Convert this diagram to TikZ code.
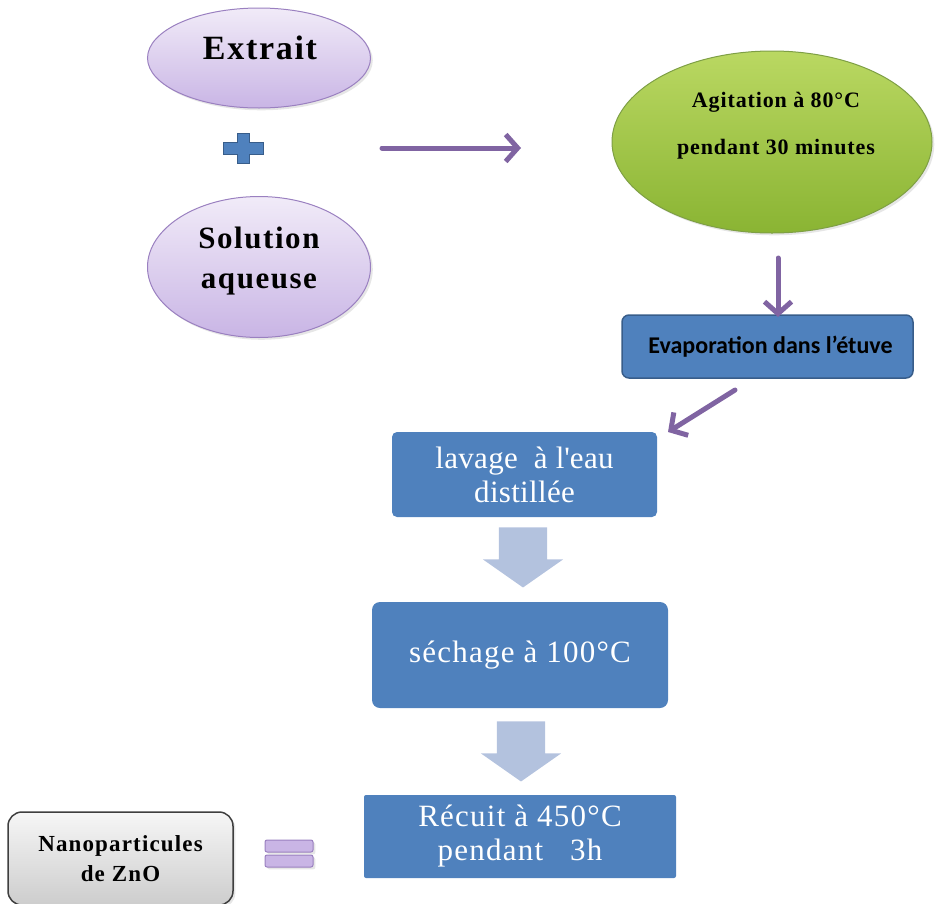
\documentclass[tikz,border=0pt]{standalone}
\usepackage{fontspec}
\setmainfont{Liberation Serif}
\newfontfamily\calibfont{Carlito}
\usetikzlibrary{shapes.geometric,shapes.arrows,arrows.meta,shadows}

\definecolor{lavtop}{HTML}{F1EBF8}
\definecolor{lavbot}{HTML}{C9B5E5}
\definecolor{lavline}{HTML}{9A80C0}
\definecolor{greentop}{HTML}{BAD862}
\definecolor{greenbot}{HTML}{8AB433}
\definecolor{greenline}{HTML}{7E9F45}
\definecolor{boxblue}{HTML}{4F81BD}
\definecolor{blueline}{HTML}{385D8A}
\definecolor{arrblue}{HTML}{B3C2DE}
\definecolor{purplearr}{HTML}{8064A2}
\definecolor{graytop}{HTML}{F6F6F6}
\definecolor{graybot}{HTML}{CDCDCD}
\definecolor{grayline}{HTML}{3F3F3F}

\begin{document}
\begin{tikzpicture}[
  x=1pt, y=-1pt,
  lavell/.style={ellipse, draw=lavline, line width=1pt, top color=lavtop, bottom color=lavbot, minimum width=223pt, drop shadow={opacity=0.2}},
  greenell/.style={ellipse, draw=greenline, line width=1pt, top color=greentop, bottom color=greenbot, minimum width=320pt, minimum height=182pt, drop shadow={opacity=0.2}},
  bluebox/.style={rectangle, fill=boxblue, text=white, align=center},
  boxfont/.style={font=\fontsize{31}{34}\selectfont\addfontfeature{LetterSpace=#1}},
  evapbox/.style={rectangle, rounded corners=7pt, draw=blueline, line width=1.5pt, fill=boxblue, minimum width=291pt, minimum height=63pt, font=\calibfont\bfseries\fontsize{24}{26}\selectfont},
  graybox/.style={rectangle, rounded corners=14pt, draw=grayline, line width=1.5pt, top color=graytop, bottom color=graybot, minimum width=225pt, minimum height=93pt, align=center, font=\bfseries\fontsize{23}{30}\selectfont\addfontfeature{LetterSpace=5}, drop shadow={opacity=0.2}},
  bigtxt/.style={align=center, font=\bfseries\fontsize{#1}{40}\selectfont\addfontfeature{LetterSpace=5}},
  greentxt/.style={align=center, font=\bfseries\fontsize{22}{47}\selectfont\addfontfeature{LetterSpace=4}},
  blockarr/.style={single arrow, fill=arrblue, rotate=-90, minimum height=60pt, minimum width=80pt, single arrow head extend=16pt, single arrow tip angle=110, inner xsep=0pt, inner ysep=24pt},
  eqbar/.style={rectangle, rounded corners=2pt, draw=lavline, line width=1pt, fill=lavbot, minimum width=48pt, minimum height=12pt, inner sep=0pt, drop shadow={opacity=0.2}},
  arrow/.style={-{Straight Barb[length=12pt, width=27pt]}, line width=5pt, purplearr, line cap=round}
]
\useasboundingbox (0,0) rectangle (935,903);
\clip (0,0) rectangle (935,903);

% first row
\node[lavell, minimum height=100pt] (extrait) at (259,58) {};
\node[bigtxt=34] (extraitlbl) at (260,48) {Extrait};
\node[lavell, minimum height=141pt] (solution) at (259,267) {};
\node[bigtxt=31] (solutionlbl) at (259,261) {Solution\\aqueuse};
\node[inner sep=0pt] (plus) at (243,148) {};
\begin{scope}[shift={(plus)}]
  \filldraw[fill=boxblue, draw=blueline, line width=1pt]
    (-6,-15) -- (6,-15) -- (6,-6) -- (20,-6) -- (20,6) -- (6,6) -- (6,15)
    -- (-6,15) -- (-6,6) -- (-20,6) -- (-20,-6) -- (-6,-6) -- cycle;
\end{scope}

\node[greenell] (agitation) at (772,142) {};
\node[greentxt] (agitationlbl) at (776,126) {Agitation à 80°C\\pendant 30 minutes};

\node[evapbox] (evap) at (767.5,346.5) {\hspace{6pt}Evaporation dans l’étuve};

% steps
\node[bluebox, boxfont=1, rounded corners=5pt, minimum width=265pt, minimum height=85pt] (lavage) at (524.5,474.5) {lavage~ à l\textquotesingle eau\\distillée};
\node[bluebox, boxfont=4, rounded corners=8pt, minimum width=296pt, minimum height=106pt] (sechage) at (520,655) {séchage à 100°C};
\node[bluebox, boxfont=4, rounded corners=2pt, minimum width=312pt, minimum height=83pt] (recuit) at (520,836.5) {Récuit à 450°C\\pendant~~ 3h};

\node[blockarr] (arrA) at (523,549) {};
\node[blockarr] (arrB) at (521,743) {};

% result
\node[graybox] (nano) at (120.5,858.5) {Nanoparticules\\de ZnO};
\node[eqbar] (eqtop) at (289,846) {};
\node[eqbar] (eqbot) at (289,861) {};

% connectors
\coordinate (mixout) at (382,148);
\coordinate (mixin) at (521,148);
\coordinate (agitout) at (778,258);
\coordinate (evapin) at (778,317);
\coordinate (evapout) at (735,390);
\coordinate (lavagein) at (668,432);
\draw[arrow] (mixout) -- (mixin);
\draw[arrow] (agitout) -- (evapin);
\draw[arrow] (evapout) -- (lavagein);
\end{tikzpicture}
\end{document}
